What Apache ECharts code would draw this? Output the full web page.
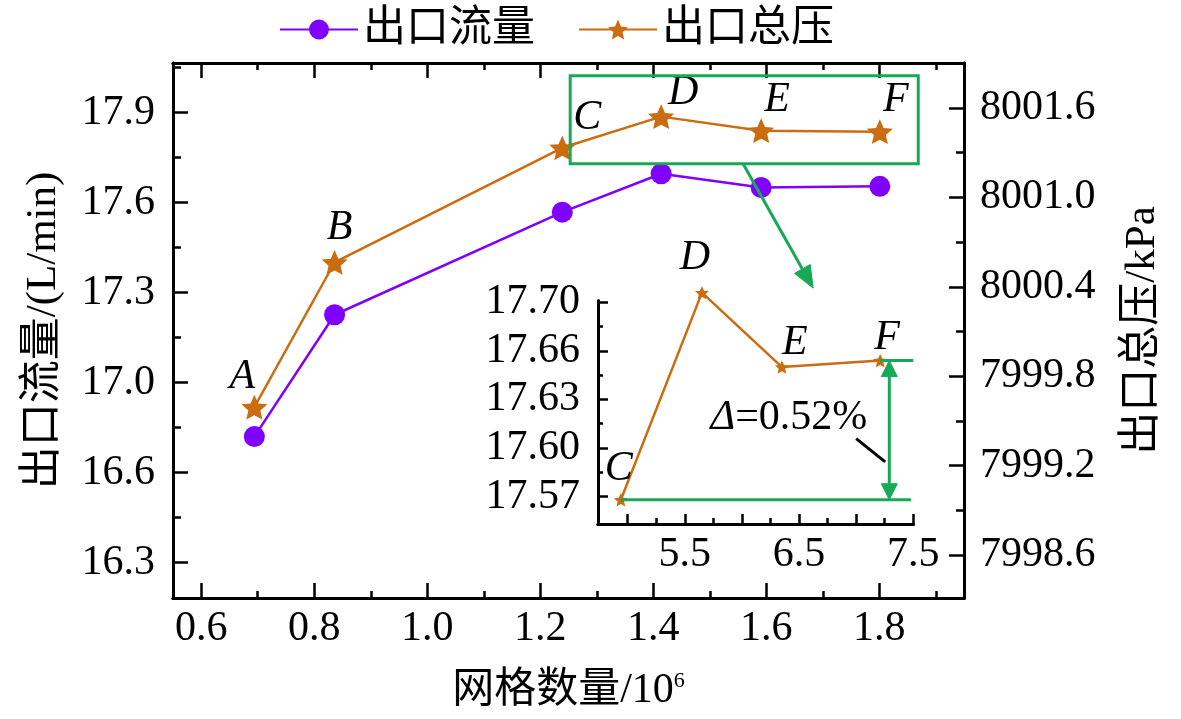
<!DOCTYPE html>
<html>
<head>
<meta charset="utf-8">
<script src="https://cdn.jsdelivr.net/npm/echarts@6/dist/echarts.min.js"></script>
<style>
html, body { margin: 0; padding: 0; background: #fff; }
#chart { width: 1181px; height: 719px; }
</style>
</head>
<body>
<div id="chart"></div>
<script>
// 网格无关性验证：出口流量 / 出口总压
const meshCount = [0.694, 0.836, 1.239, 1.414, 1.591, 1.801];
const pointNames = ["A", "B", "C", "D", "E", "F"];
const outletFlow = [16.82, 17.226, 17.568, 17.696, 17.65, 17.654];
const outletPressure = [7999.592, 8000.563, 8001.333, 8001.542, 8001.448, 8001.441];

// 局部放大 (C~F)
const insetX = [4.94, 5.65, 6.35, 7.21];
const insetFlow = outletFlow.slice(2);
const insetNames = pointNames.slice(2);

// 刻度
const xTicks = [0.6, 0.8, 1.0, 1.2, 1.4, 1.6, 1.8];
const xMinorTicks = [0.7, 0.9, 1.1, 1.3, 1.5, 1.7, 1.9];
const flowTicks = [16.4, 16.7, 17.0, 17.3, 17.6, 17.9];
const flowTickLabels = ["16.3", "16.6", "17.0", "17.3", "17.6", "17.9"];
const flowMinorTicks = [16.55, 16.85, 17.15, 17.45, 17.75, 18.05];
const pressTicks = [7998.6, 7999.2, 7999.8, 8000.4, 8001.0, 8001.6];
const pressMinorTicks = [7998.9, 7999.5, 8000.1, 8000.7, 8001.3];
const insetXTicks = [5.0, 5.5, 6.0, 6.5, 7.0, 7.5];
const insetXLabels = [5.5, 6.5, 7.5];
const insetXMinor = [5.25, 5.75, 6.25, 6.75, 7.25];
const insetYTicks = [17.57, 17.60, 17.63, 17.66, 17.69];
const insetYTickLabels = ["17.57", "17.60", "17.63", "17.66", "17.70"];
const insetYMinor = [17.585, 17.615, 17.645, 17.675];

const FONT = "'Liberation Serif', 'Noto Sans CJK SC', serif";
const NUM_FONT = "Liberation Serif";
const purple = "#8000FF";
const orange = "#CC6C10";
const green = "#17A957";
const star = "path://M0,-10L2.8,-3.6L9.51,-3.09L4.4,1.5L5.88,8.09L0,4.9L-5.88,8.09L-4.4,1.5L-9.51,-3.09L-2.8,-3.6Z";

function pick(list, names) {
  return function (v) {
    for (let i = 0; i < list.length; i++) {
      if (Math.abs(list[i] - v) < 1e-6) return names[i];
    }
    return "";
  };
}

// 坐标轴：刻度朝内，用 customValues 控制位置
function makeAxis(gridIndex, position, min, max, ticks, len, labelVals, fmt, margin) {
  const a = {
    type: "value",
    gridIndex: gridIndex,
    position: position,
    min: min,
    max: max,
    axisLine: { show: true, onZero: false, lineStyle: { color: "#000", width: 3 } },
    axisTick: {
      show: true, inside: true, length: len, customValues: ticks,
      lineStyle: { color: "#000", width: 2.5 }
    },
    axisLabel: { show: false },
    splitLine: { show: false },
    axisPointer: { show: false }
  };
  if (labelVals) {
    a.axisLabel = {
      show: true, customValues: labelVals, formatter: fmt, margin: margin,
      color: "#000", fontSize: 42, fontFamily: NUM_FONT
    };
  }
  return a;
}

const mainX = [0.55, 1.95];
const mainFlow = [16.282, 18.065];
const mainPress = [7998.311, 8001.902];
const inX = [4.74, 7.5];
const inY = [17.553, 17.691];

const xAxes = [
  makeAxis(0, "bottom", mainX[0], mainX[1], xTicks, 15, xTicks, v => v.toFixed(1), 10),
  makeAxis(0, "bottom", mainX[0], mainX[1], xMinorTicks, 7),
  makeAxis(0, "top", mainX[0], mainX[1], xTicks, 15),
  makeAxis(0, "top", mainX[0], mainX[1], xMinorTicks, 7),
  makeAxis(1, "bottom", inX[0], inX[1], insetXTicks, 10, insetXLabels, v => v.toFixed(1), 10),
  makeAxis(1, "bottom", inX[0], inX[1], insetXMinor, 6)
];
xAxes[0].name = "{a|网格数量/10}{s|6}";
xAxes[0].nameLocation = "middle";
xAxes[0].nameGap = 72;
xAxes[0].nameTextStyle = {
  color: "#000",
  rich: {
    a: { fontSize: 42, fontFamily: FONT, color: "#000" },
    s: { fontSize: 22, fontFamily: NUM_FONT, color: "#000", padding: [0, 0, 20, 0] }
  }
};

const yAxes = [
  makeAxis(0, "left", mainFlow[0], mainFlow[1], flowTicks, 15, flowTicks, pick(flowTicks, flowTickLabels), 18),
  makeAxis(0, "left", mainFlow[0], mainFlow[1], flowMinorTicks, 8),
  makeAxis(0, "right", mainPress[0], mainPress[1], pressTicks, 15, pressTicks, v => v.toFixed(1), 16),
  makeAxis(0, "right", mainPress[0], mainPress[1], pressMinorTicks, 8),
  makeAxis(1, "left", inY[0], inY[1], insetYTicks, 10, insetYTicks, pick(insetYTicks, insetYTickLabels), 18),
  makeAxis(1, "left", inY[0], inY[1], insetYMinor, 5)
];
yAxes[0].name = "出口流量/(L/min)";
yAxes[0].nameLocation = "middle";
yAxes[0].nameRotate = 90;
yAxes[0].nameGap = 108;
yAxes[0].nameTextStyle = { color: "#000", fontSize: 43, fontFamily: FONT };
yAxes[2].name = "出口总压/kPa";
yAxes[2].nameLocation = "middle";
yAxes[2].nameRotate = 90;
yAxes[2].nameGap = 157;
yAxes[2].nameTextStyle = { color: "#000", fontSize: 43, fontFamily: FONT };

const mainLabelOffsets = [[-12, -30], [5, -35], [25, -30], [22, -24], [16, -31], [16, -32]];
const insetLabelOffsets = [[-2, -31], [-7, -35], [13, -24], [7, -23]];

const labelStyle = {
  show: true, position: "inside", color: "#000",
  fontSize: 42, fontStyle: "italic", fontFamily: NUM_FONT
};

const option = {
  animation: false,
  backgroundColor: "#fff",
  grid: [
    { left: 173, top: 63, right: 217, bottom: 121, outerBoundsMode: "none", containLabel: false },
    { left: 598, top: 300.7, right: 267.7, bottom: 195, outerBoundsMode: "none", containLabel: false }
  ],
  legend: {
    data: ["出口流量", "出口总压"],
    left: 274, top: 3,
    itemWidth: 78, itemHeight: 25, itemGap: 43,
    textStyle: { color: "#000", fontSize: 43, fontFamily: FONT }
  },
  xAxis: xAxes,
  yAxis: yAxes,
  series: [
    {
      name: "出口流量", type: "line", xAxisIndex: 0, yAxisIndex: 0,
      data: meshCount.map((x, i) => [x, outletFlow[i]]),
      symbol: "circle", symbolSize: 21,
      itemStyle: { color: purple },
      lineStyle: { color: purple, width: 2.5 },
      z: 3
    },
    {
      name: "出口总压", type: "line", xAxisIndex: 0, yAxisIndex: 2,
      data: meshCount.map((x, i) => ({ value: [x, outletPressure[i]], label: { offset: mainLabelOffsets[i] } })),
      symbol: star, symbolSize: 26, symbolKeepAspect: true,
      itemStyle: { color: orange },
      lineStyle: { color: orange, width: 2.5 },
      label: Object.assign({ formatter: p => pointNames[p.dataIndex] }, labelStyle),
      z: 4
    },
    {
      name: "局部放大", type: "line", xAxisIndex: 4, yAxisIndex: 4,
      data: insetX.map((x, i) => ({ value: [x, insetFlow[i]], label: { offset: insetLabelOffsets[i] } })),
      symbol: star, symbolSize: 14, symbolKeepAspect: true, clip: false,
      itemStyle: { color: orange },
      lineStyle: { color: orange, width: 2.5 },
      label: Object.assign({ formatter: p => insetNames[p.dataIndex] }, labelStyle),
      z: 4
    }
  ]
};

const chart = echarts.init(document.getElementById("chart"));
chart.setOption(option);

// 标注：方框、箭头、Δ
const pMain = v => chart.convertToPixel({ seriesIndex: 1 }, v);
const pIn = v => chart.convertToPixel({ seriesIndex: 2 }, v);

function arrowParts(from, to, headLen, headW, color) {
  const dx = to[0] - from[0], dy = to[1] - from[1];
  const d = Math.sqrt(dx * dx + dy * dy);
  const ux = dx / d, uy = dy / d;
  const bx = to[0] - ux * headLen, by = to[1] - uy * headLen;
  const nx = -uy * headW / 2, ny = ux * headW / 2;
  return {
    base: [bx, by],
    head: {
      type: "polygon", z: 20,
      shape: { points: [to, [bx + nx, by + ny], [bx - nx, by - ny]] },
      style: { fill: color, stroke: color, lineWidth: 1 }
    }
  };
}

const g = [];
const r0 = pMain([1.253, 8001.817]);
const r1 = pMain([1.869, 8001.226]);
g.push({
  type: "rect", z: 20,
  shape: { x: r0[0], y: r0[1], width: r1[0] - r0[0], height: r1[1] - r0[1] },
  style: { fill: "none", stroke: green, lineWidth: 3 }
});

const a0 = pMain([1.559, 8001.226]);
const a1 = pMain([1.683, 8000.391]);
const ah = arrowParts(a0, a1, 22, 18, green);
g.push({ type: "line", z: 20, shape: { x1: a0[0], y1: a0[1], x2: ah.base[0], y2: ah.base[1] }, style: { stroke: green, lineWidth: 3 } });
g.push(ah.head);

const lowY = insetFlow[0];
const highY = insetFlow[3];
const l0 = pIn([insetX[0], lowY]), l1 = pIn([7.48, lowY]);
g.push({ type: "line", z: 20, shape: { x1: l0[0], y1: l0[1], x2: l1[0], y2: l1[1] }, style: { stroke: green, lineWidth: 3 } });
const h0 = pIn([insetX[3], highY]), h1 = pIn([7.5, highY]);
g.push({ type: "line", z: 20, shape: { x1: h0[0], y1: h0[1], x2: h1[0], y2: h1[1] }, style: { stroke: green, lineWidth: 3 } });

const vTop = pIn([7.29, highY]), vBot = pIn([7.29, lowY]);
const hu = arrowParts(vBot, vTop, 16, 16, green);
const hd = arrowParts(vTop, vBot, 16, 16, green);
g.push({ type: "line", z: 20, shape: { x1: hu.base[0], y1: hu.base[1], x2: hd.base[0], y2: hd.base[1] }, style: { stroke: green, lineWidth: 3 } });
g.push(hu.head, hd.head);

const k0 = pIn([7.0, 17.6058]), k1 = pIn([7.254, 17.5914]);
g.push({ type: "line", z: 20, shape: { x1: k0[0], y1: k0[1], x2: k1[0], y2: k1[1] }, style: { stroke: "#000", lineWidth: 3 } });

const tp = pIn([6.411, 17.6188]);
g.push({
  type: "text", z: 20, x: tp[0], y: tp[1],
  style: {
    text: "{i|Δ}=0.52%",
    fontSize: 42, fontFamily: NUM_FONT, fill: "#000",
    align: "center", verticalAlign: "middle",
    rich: { i: { fontSize: 42, fontFamily: NUM_FONT, fontStyle: "italic", fill: "#000" } }
  }
});

chart.setOption({ graphic: g });
</script>
</body>
</html>
